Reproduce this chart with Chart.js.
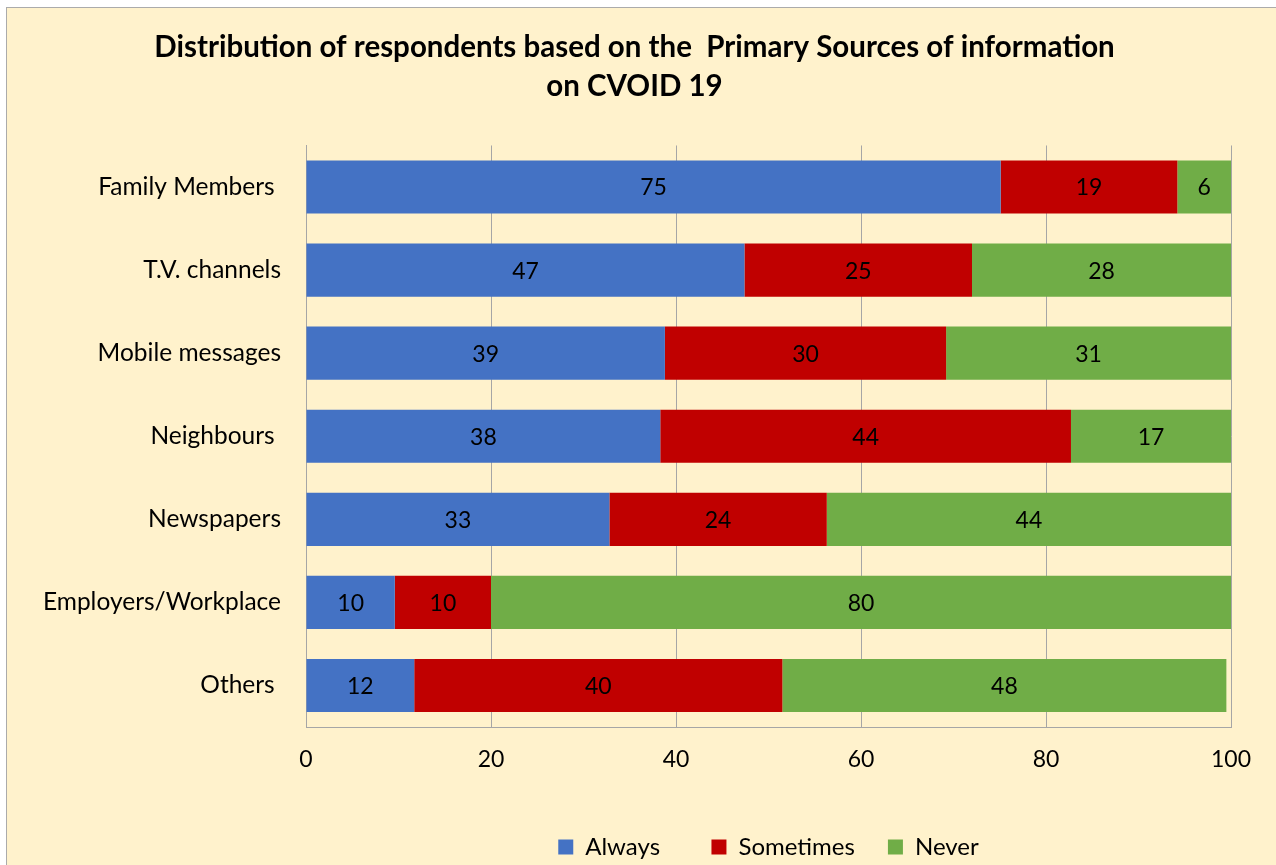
<!DOCTYPE html>
<html>
<head>
<meta charset="utf-8">
<script src="https://cdn.jsdelivr.net/npm/chart.js@4"></script>
<style>
    html, body { margin: 0; padding: 0; background: #ffffff; overflow: hidden; }
    #frame {
        position: absolute; left: 6px; top: 7px; width: 1290px; height: 880px;
        background: #FFF2CC; border: 1px solid #ABABAB;
    }
    #wrap { position: absolute; left: 0; top: 0; width: 1276px; height: 865px; }
</style>
</head>
<body>
<div id="frame"></div>
<div id="wrap"><canvas id="chart" width="1276" height="865"></canvas></div>
<script>
// Categorías y valores (%)
const categories = ['Family Members ', 'T.V. channels', 'Mobile messages', 'Neighbours ', 'Newspapers', 'Employers/Workplace', 'Others '];
const always    = [75.1, 47.4, 38.8, 38.3, 32.8, 9.6, 11.7];
const sometimes = [19.1, 24.6, 30.4, 44.4, 23.5, 10.4, 39.8];
const never     = [5.8, 28.0, 30.8, 17.3, 43.7, 80.0, 48.0];
const xTicks    = [0, 20, 40, 60, 80, 100];

const FONT = 'Lato, Calibri, Carlito, sans-serif';

// Etiquetas de valor centradas en cada segmento
const barLabels = {
    id: 'barLabels',
    afterDatasetsDraw(chart) {
        const ctx = chart.ctx;
        ctx.save();
        ctx.font = '23px ' + FONT;
        ctx.fillStyle = '#000000';
        ctx.textAlign = 'center';
        ctx.textBaseline = 'middle';
        chart.data.datasets.forEach((ds, i) => {
            chart.getDatasetMeta(i).data.forEach((bar, j) => {
                const p = bar.getProps(['x', 'y', 'base'], true);
                ctx.fillText(Math.round(ds.data[j]), (p.x + p.base) / 2, p.y + 1);
            });
        });
        ctx.restore();
    }
};

new Chart(document.getElementById('chart'), {
    type: 'bar',
    data: {
        labels: categories,
        datasets: [
            { label: 'Always', data: always, backgroundColor: '#4472C4' },
            { label: 'Sometimes', data: sometimes, backgroundColor: '#C00000' },
            { label: 'Never', data: never, backgroundColor: '#70AD47' }
        ]
    },
    options: {
        indexAxis: 'y',
        responsive: false,
        animation: false,
        datasets: { bar: { barPercentage: 0.64, categoryPercentage: 1 } },
        layout: { padding: { left: 38, right: 45, top: 0, bottom: -4 } },
        scales: {
            x: {
                stacked: true,
                min: 0,
                max: 100,
                afterBuildTicks: s => { s.ticks = xTicks.map(v => ({ value: v })); },
                afterFit: s => { s.height = 75; },
                grid: { color: '#A6A6A6', drawTicks: false },
                border: { color: '#A6A6A6' },
                ticks: { color: '#000000', padding: 19, font: { family: FONT, size: 23 } }
            },
            y: {
                stacked: true,
                afterFit: s => { s.width = 268; },
                grid: { display: false, drawTicks: false },
                border: { color: '#A6A6A6' },
                ticks: { color: '#000000', padding: 25, font: { family: FONT, size: 24.5 } }
            }
        },
        plugins: {
            title: {
                display: true,
                text: ['Distribution of respondents based on the  Primary Sources of information', 'on CVOID 19'],
                color: '#000000',
                font: { family: FONT, size: 29.5, weight: 'bold', lineHeight: 1.33 },
                padding: { top: 28, bottom: 39 }
            },
            legend: {
                position: 'bottom',
                fullSize: false,
                labels: {
                    color: '#000000',
                    boxWidth: 15,
                    boxHeight: 15,
                    padding: 33,
                    font: { family: FONT, size: 24 },
                    generateLabels: chart => {
                        const items = Chart.defaults.plugins.legend.labels.generateLabels(chart);
                        items[0].text = items[0].text + '   ';
                        return items;
                    }
                }
            },
            tooltip: { enabled: false }
        }
    },
    plugins: [barLabels]
});
</script>
</body>
</html>
